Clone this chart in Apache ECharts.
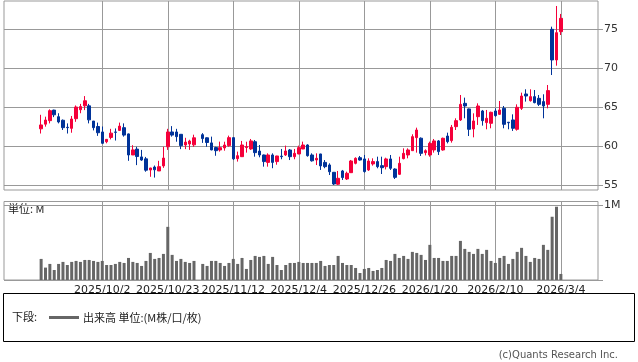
<!DOCTYPE html>
<html><head><meta charset="utf-8">
<script src="https://cdn.jsdelivr.net/npm/echarts@6/dist/echarts.min.js"></script>
<style>html,body{margin:0;padding:0;background:#fff}#c{width:638px;height:362px}</style>
</head><body><div id="c"></div>
<script>
const tickLabels = ['2025/10/2','2025/10/23','2025/11/12','2025/12/4','2025/12/26','2026/1/20','2026/2/10','2026/3/4'];
const priceTicks = [55, 60, 65, 70, 75];

const opens = [62.2,62.8,63.25,64.6,63.76,63.3,62.4,62.26,63.5,64.65,65.15,65.15,63.2,62.5,61.8,60.55,61.1,61.8,62.0,62.35,
61.55,58.85,59.6,58.6,58.35,56.92,57.3,56.8,57.45,59.9,61.8,61.8,61.5,60.13,60.26,60.15,null,61.45,61.05,60.4,
59.8,59.49,59.75,60.05,61.07,58.38,58.63,59.8,59.62,60.55,59.35,58.85,57.9,58.85,58.0,58.7,58.85,59.49,58.63,58.98,
59.62,60.13,58.85,58.21,58.98,57.9,57.57,56.63,55.1,56.8,55.77,56.58,57.78,58.5,58.34,56.93,57.7,58.0,57.48,57.35,
58.34,57.05,56.37,58.38,58.85,59.4,61.07,61.0,59.15,58.85,59.49,60.65,59.49,61.28,60.69,62.48,63.34,65.47,64.75,62.18,
63.76,64.49,63.0,62.91,64.49,64.06,64.83,63.05,63.34,62.14,64.83,66.67,65.81,66.33,66.11,65.69,65.34,74.96,71.03,74.66];
const closes = [62.7,63.33,64.53,64.0,63.08,62.35,62.35,63.46,65.0,65.05,65.8,63.35,62.35,61.7,60.35,60.85,61.65,61.75,62.55,61.4,
58.85,59.5,58.65,58.2,56.9,57.18,56.95,57.35,58.45,61.8,61.4,61.2,60.05,60.5,60.64,61.05,null,60.95,60.45,59.5,
59.4,59.79,60.13,61.07,58.35,58.76,60.13,59.92,60.65,59.15,58.85,58.0,58.85,57.9,58.72,58.63,59.36,58.63,59.06,59.79,
60.13,58.76,58.1,58.42,57.45,57.35,56.7,55.13,55.86,55.95,56.5,58.08,58.42,58.2,56.72,58.08,58.0,57.35,57.22,58.34,
57.14,55.98,57.78,59.06,59.49,61.2,62.05,59.06,59.4,60.34,60.65,59.28,60.99,60.56,62.4,63.25,65.34,65.13,62.14,63.21,
65.13,63.25,63.55,64.32,63.89,64.62,62.78,62.98,62.27,64.96,66.41,66.41,66.33,65.56,65.34,65.13,67.1,71.03,74.53,76.37];
const lows = [61.6,62.48,62.9,63.7,62.9,62.05,61.6,61.7,63.1,64.2,64.6,62.9,62.0,61.3,60.25,60.35,60.85,60.7,61.95,61.2,
58.1,58.85,57.55,58.1,56.7,56.05,55.95,56.8,57.2,59.5,61.2,60.55,59.6,59.6,59.5,59.9,null,60.4,59.9,59.45,
58.75,59.28,59.4,59.9,58.2,58.0,58.6,59.15,59.5,58.63,58.55,57.35,57.35,57.15,57.6,58.3,58.72,58.2,58.3,58.95,
59.6,58.63,58.0,57.56,56.93,57.15,56.28,55.0,55.0,55.64,55.64,56.55,57.65,58.12,56.58,56.8,57.48,57.14,56.41,57.0,
56.93,55.77,56.28,58.29,58.42,59.4,59.15,58.72,58.8,58.63,59.15,58.85,59.4,60.34,60.43,62.05,63.21,63.55,61.28,61.11,
62.7,62.61,62.14,62.27,63.76,63.98,62.27,62.14,61.93,61.97,64.62,65.69,65.69,65.47,65.13,63.55,64.83,69.1,70.3,74.23];
const highs = [64.0,63.76,64.7,64.65,64.2,63.4,62.9,63.85,65.2,65.4,66.4,65.4,63.2,63.0,62.5,60.9,62.2,62.25,63.0,62.9,
61.6,60.1,59.9,59.5,58.6,57.2,57.5,58.1,59.9,62.2,62.55,62.2,61.5,61.05,60.8,61.45,null,61.65,61.1,61.2,
59.9,60.56,60.55,61.33,61.1,59.28,60.65,60.55,60.9,60.77,60.13,58.9,59.06,59.06,58.75,59.62,60.05,59.62,59.62,60.05,
60.56,60.22,59.06,59.06,59.0,58.2,57.78,56.65,56.8,56.93,56.71,58.21,58.55,58.72,58.85,58.42,58.42,58.63,58.63,58.5,
58.85,57.14,58.63,59.7,59.7,61.5,62.35,61.1,59.57,60.56,60.9,60.77,61.07,61.71,62.7,63.55,66.54,66.2,64.8,64.19,
65.47,64.62,64.62,64.4,64.83,65.77,65.13,63.05,64.06,65.34,66.84,67.27,67.27,67.18,66.54,66.63,67.82,75.3,77.95,76.93];
const volumes = [0.282,0.166,0.215,0.134,0.215,0.242,0.201,0.242,0.255,0.242,0.268,0.268,0.255,0.242,0.255,0.201,0.201,0.215,0.242,0.228,
0.295,0.242,0.228,0.188,0.255,0.362,0.282,0.295,0.349,0.711,0.336,0.255,0.282,0.242,0.228,0.255,null,0.215,0.188,0.255,
0.255,0.228,0.188,0.228,0.282,0.215,0.295,0.148,0.268,0.322,0.309,0.322,0.215,0.309,0.201,0.134,0.201,0.228,0.228,0.242,
0.228,0.228,0.228,0.228,0.255,0.188,0.201,0.201,0.322,0.228,0.201,0.201,0.161,0.094,0.148,0.161,0.121,0.134,0.161,0.268,
0.255,0.349,0.295,0.322,0.282,0.376,0.362,0.336,0.268,0.470,0.295,0.295,0.255,0.255,0.322,0.322,0.523,0.416,0.376,0.349,
0.416,0.349,0.403,0.255,0.228,0.295,0.322,0.215,0.282,0.376,0.430,0.322,0.242,0.295,0.282,0.470,0.403,0.846,0.980,0.081];

const padLeft = 8, padRight = 8, firstTickBar = 14, barsPerTick = 15;
const nBars = opens.length;
const nSlots = padLeft + nBars + padRight;
const categories = [];
for (let i = 0; i < nSlots; i++) {
  const j = i - padLeft - firstTickBar;
  const k = j / barsPerTick;
  categories.push(j >= 0 && j % barsPerTick === 0 && tickLabels[k] ? tickLabels[k] : ('s' + i));
}
const isTick = (idx, val) => tickLabels.indexOf(val) >= 0;
const candleData = [], volData = [];
for (let i = 0; i < nSlots; i++) {
  const k = i - padLeft;
  if (k >= 0 && k < nBars && opens[k] != null) {
    candleData.push([opens[k], closes[k], lows[k], highs[k]]);
    volData.push(volumes[k]);
  } else { candleData.push('-'); volData.push('-'); }
}

const UP = '#f5003a', DOWN = '#003399', GRID = '#999999';
const L = 4, W = 594;
const chart = echarts.init(document.getElementById('c'), null, {renderer: 'canvas'});
chart.setOption({
  animation: false,
  backgroundColor: '#fff',
  grid: [
    {left: L, top: 1, width: W, height: 189, show: true, borderColor: GRID, borderWidth: 1, backgroundColor: 'transparent'},
    {left: L, top: 29, width: W, height: 156, show: false},
    {left: L, top: 201.5, width: W, height: 78.5, show: true, borderColor: GRID, borderWidth: 1, backgroundColor: 'transparent'}
  ],
  xAxis: [
    {type: 'category', gridIndex: 0, data: categories, boundaryGap: true,
     axisLine: {show: false}, axisLabel: {show: false}, splitLine: {show: false},
     axisTick: {show: true, inside: true, length: 189, alignWithLabel: true, interval: isTick, lineStyle: {color: GRID, width: 1}}},
    {type: 'category', gridIndex: 1, data: categories, boundaryGap: true, show: false},
    {type: 'category', gridIndex: 2, data: categories, boundaryGap: true,
     axisLine: {show: false}, splitLine: {show: false},
     axisTick: {show: true, inside: true, length: 78.5, alignWithLabel: true, interval: isTick, lineStyle: {color: GRID, width: 1}},
     axisLabel: {show: true, interval: isTick, margin: 5, color: '#222', fontFamily: 'DejaVu Sans', fontSize: 11, hideOverlap: false}}
  ],
  yAxis: [
    {type: 'value', gridIndex: 0, show: false, min: 0, max: 1, splitLine: {show: false}},
    {type: 'value', gridIndex: 1, position: 'right', min: priceTicks[0], max: priceTicks[priceTicks.length - 1], interval: 5,
     axisLine: {show: false},
     axisTick: {show: true, length: 5, lineStyle: {color: GRID}},
     axisLabel: {margin: 6, color: '#333', fontFamily: 'DejaVu Sans', fontSize: 11},
     splitLine: {show: true, lineStyle: {color: GRID, width: 1}}},
    {type: 'value', gridIndex: 2, position: 'right', min: 0, max: 1.05, interval: 1,
     axisLine: {show: false},
     axisTick: {show: true, length: 5, lineStyle: {color: GRID}},
     axisLabel: {margin: 6, color: '#333', fontFamily: 'DejaVu Sans', fontSize: 11, showMaxLabel: false,
       formatter: v => (Math.abs(v - 1) < 1e-9 ? '1M' : '')},
     splitLine: {show: true, lineStyle: {color: GRID, width: 1}}}
  ],
  legend: {
    show: true, left: 44, top: 307, icon: 'rect', itemWidth: 30, itemHeight: 3, itemGap: 5,
    data: ['出来高'],
    formatter: n => n + ' 単位:(M株/口/枚)',
    textStyle: {fontSize: 11, color: '#222', fontFamily: 'Noto Sans CJK JP', padding: [0, 0, 0, -1]}
  },
  graphic: [
    {type: 'rect', z: -10, shape: {x: 3.5, y: 293.5, width: 631, height: 48}, style: {fill: '#fff', stroke: '#000', lineWidth: 1}},
    {type: 'text', left: 12, top: 311, style: {text: '下段:', fill: '#222', font: '11px "Noto Sans CJK JP"'}},
    {type: 'text', left: 8, top: 203, style: {text: '単位: M', fill: '#222', font: '11px "Noto Sans CJK JP"'}},
    {type: 'text', right: 20, top: 350, style: {text: '(c)Quants Research Inc.', fill: '#555', font: '10px "DejaVu Sans"'}}
  ],
  series: [
    {type: 'candlestick', name: '株価', xAxisIndex: 1, yAxisIndex: 1, data: candleData, clip: false,
     barWidth: 3,
     itemStyle: {color: UP, color0: DOWN, borderColor: UP, borderColor0: DOWN, borderWidth: 1}},
    {type: 'bar', name: '出来高', xAxisIndex: 2, yAxisIndex: 2, data: volData, barWidth: 3,
     itemStyle: {color: '#666666'}}
  ]
});
</script></body></html>
